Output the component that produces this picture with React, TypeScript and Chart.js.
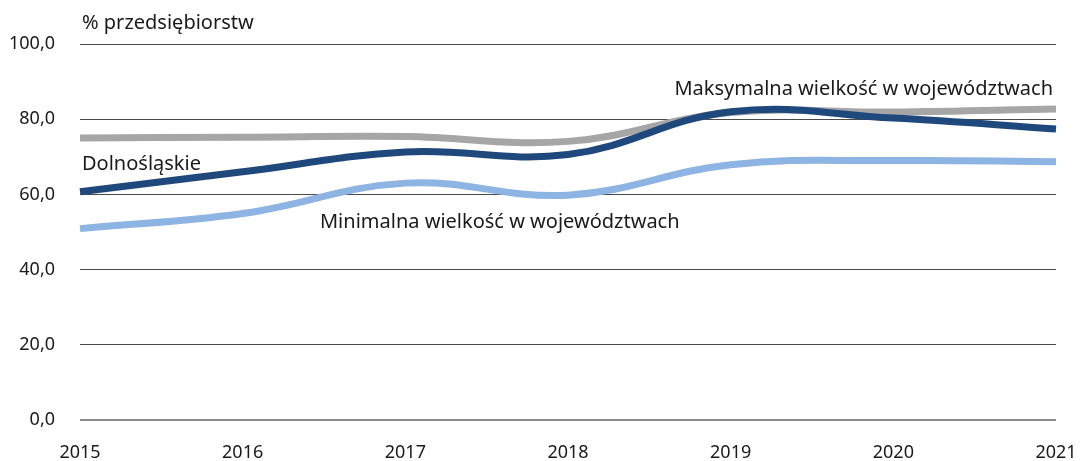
import React, { useEffect, useRef } from "react";
import { Chart, registerables } from "chart.js";

Chart.register(...registerables);

const years = ["2015", "2016", "2017", "2018", "2019", "2020", "2021"];
const dolnoslaskie = [60.7, 66.0, 71.3, 70.6, 82.0, 80.3, 77.4];
const maksymalna = [75.0, 75.2, 75.4, 74.1, 81.8, 81.9, 82.7];
const minimalna = [50.9, 54.9, 63.0, 59.8, 67.9, 69.0, 68.7];
const yTicks = [0, 20, 40, 60, 80, 100];

const axisTitle = "% przedsiębiorstw";
const annotations = [
  { text: "Dolnośląskie", x: 0, y: 66.4, align: "left" },
  { text: "Minimalna wielkość w województwach", x: 1.463, y: 51.1, align: "left" },
  { text: "Maksymalna wielkość w województwach", x: 6, y: 86.5, align: "right" },
];

const FONT = "'Noto Sans', 'Open Sans', sans-serif";

const labelsPlugin = {
  id: "labelsPlugin",
  afterDatasetsDraw(chart: any) {
    const { ctx, chartArea, scales } = chart;
    ctx.save();
    ctx.fillStyle = "#1a1a1a";
    ctx.font = `20px ${FONT}`;
    ctx.textBaseline = "alphabetic";
    ctx.textAlign = "left";
    ctx.fillText(axisTitle, chartArea.left + 2, 29);
    for (const a of annotations) {
      const px = scales.x.getPixelForValue(a.x) + (a.align === "left" ? 2 : -3);
      const py = scales.y.getPixelForValue(a.y);
      ctx.textAlign = a.align as CanvasTextAlign;
      ctx.fillText(a.text, px, py);
    }
    ctx.restore();
  },
};

export default function App() {
  const ref = useRef<HTMLCanvasElement>(null);
  useEffect(() => {
    document.body.style.margin = "0";
    const chart = new Chart(ref.current as HTMLCanvasElement, {
      type: "line",
      data: {
        labels: years,
        datasets: [
          {
            label: "Dolnośląskie",
            data: dolnoslaskie,
            borderColor: "#1F497D",
            borderWidth: 7,
            pointRadius: 0,
            tension: 0.4,
            fill: false,
          },
          {
            label: "Maksymalna wielkość w województwach",
            data: maksymalna,
            borderColor: "#A6A6A6",
            borderWidth: 7,
            pointRadius: 0,
            tension: 0.4,
            fill: false,
          },
          {
            label: "Minimalna wielkość w województwach",
            data: minimalna,
            borderColor: "#8DB4E2",
            borderWidth: 7,
            pointRadius: 0,
            tension: 0.4,
            fill: false,
          },
        ],
      },
      options: {
        responsive: false,
        animation: false,
        layout: { padding: { top: 44, right: 24, bottom: 0, left: 0 } },
        plugins: {
          legend: { display: false },
          title: { display: false },
          tooltip: { enabled: false },
        },
        scales: {
          x: {
            afterFit(scale: any) {
              scale.height = 41;
              scale.paddingLeft = 0;
              scale.paddingRight = 0;
            },
            grid: { display: false, drawTicks: false },
            border: { display: false },
            ticks: {
              padding: 22,
              color: "#1a1a1a",
              font: { family: FONT, size: 18 },
              maxRotation: 0,
              autoSkip: false,
            },
          },
          y: {
            min: 0,
            max: 100,
            afterFit(scale: any) {
              scale.width = 80;
            },
            afterBuildTicks(scale: any) {
              scale.ticks = yTicks.map((v) => ({ value: v }));
            },
            grid: {
              drawTicks: false,
              color: (c: any) => (c.tick && c.tick.value === 0 ? "#8a8a8a" : "#4a4a4a"),
              lineWidth: (c: any) => (c.tick && c.tick.value === 0 ? 2 : 1),
            },
            border: { display: false },
            ticks: {
              padding: 25,
              color: "#1a1a1a",
              font: { family: FONT, size: 18 },
              callback: (v: any) => Number(v).toFixed(1).replace(".", ","),
            },
          },
        },
      },
      plugins: [labelsPlugin],
    });
    return () => chart.destroy();
  }, []);
  return <canvas ref={ref} width={1080} height={461} style={{ display: "block" }} />;
}
